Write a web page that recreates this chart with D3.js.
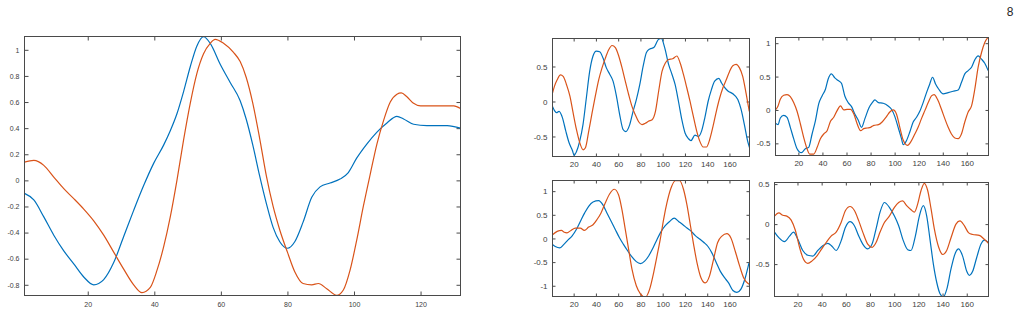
<!DOCTYPE html>
<html>
<head>
<meta charset="utf-8">
<script src="https://cdn.jsdelivr.net/npm/d3@7"></script>
<style>
  body { margin: 0; background: #fff; }
  svg { display: block; font-family: "Liberation Sans", Arial, sans-serif; }
  .axis path.domain { display: none; }
  .axis line { stroke: #4a4a4a; }
  .axis text { fill: #404040; font-family: "Liberation Sans", Arial, sans-serif; }
</style>
</head>
<body>
<svg id="chart" width="1020" height="316"></svg>
<script>
// left (large) panel, x = sample index, y = value
const mainXTicks = [20, 40, 60, 80, 100, 120];
const mainYTicks = [-0.8, -0.6, -0.4, -0.2, 0, 0.2, 0.4, 0.6, 0.8, 1];
const mainBlue = [[1,-0.10],[3.8,-0.15],[6.8,-0.28],[9.8,-0.42],[12.8,-0.54],[15.8,-0.64],[18.8,-0.74],[21.8,-0.80],[24.8,-0.76],[27.8,-0.63],[30.8,-0.43],[33.8,-0.23],[36.8,-0.04],[39.8,0.13],[42.8,0.27],[44.8,0.38],[46.8,0.51],[48.8,0.68],[50.8,0.87],[52.8,1.03],[54.8,1.10],[56.8,1.05],[59.8,0.89],[62.8,0.75],[65.8,0.61],[67.6,0.47],[69.6,0.27],[71.6,0.04],[73.7,-0.18],[75.7,-0.36],[77.7,-0.47],[80,-0.52],[82.2,-0.47],[84.7,-0.32],[87.3,-0.13],[89.8,-0.05],[92.8,-0.02],[95.8,0.01],[98.3,0.06],[100.8,0.17],[103.9,0.28],[106.9,0.37],[109.9,0.44],[112.9,0.49],[114.9,0.47],[117.9,0.43],[121.9,0.42],[128,0.42],[132,0.40]];
const mainOrange = [[1,0.14],[3.8,0.153],[6.8,0.115],[9.8,0.025],[12.8,-0.064],[15.8,-0.14],[18.8,-0.22],[21.8,-0.31],[24.8,-0.42],[27.8,-0.55],[30.8,-0.68],[33.8,-0.80],[36.3,-0.86],[38.8,-0.82],[40.8,-0.69],[42.8,-0.51],[44.8,-0.28],[46.8,0.0],[48.8,0.31],[50.8,0.59],[52.8,0.82],[54.8,0.97],[56.8,1.05],[58.3,1.08],[60.8,1.05],[63.8,0.98],[65.8,0.91],[67.6,0.79],[69.6,0.59],[71.6,0.33],[73.7,0.03],[75.7,-0.20],[77.7,-0.38],[80,-0.55],[82.2,-0.70],[84.7,-0.79],[87.3,-0.80],[89.3,-0.79],[91.8,-0.83],[94.8,-0.88],[96.8,-0.84],[98.8,-0.69],[100.8,-0.46],[102.8,-0.20],[104.9,0.05],[106.9,0.28],[108.9,0.46],[110.9,0.60],[112.9,0.66],[114.2,0.67],[115.9,0.64],[117.9,0.59],[120,0.57],[126,0.57],[130,0.57],[132,0.55]];

// four small panels share the x ticks
const smallXTicks = [20, 40, 60, 80, 100, 120, 140, 160];

const tlYTicks = [-0.5, 0, 0.5];
const tlBlue = [[1,-0.07],[2.8,-0.13],[4.6,-0.16],[6.9,-0.14],[9.9,-0.23],[12.9,-0.42],[15.9,-0.59],[18.9,-0.70],[20.5,-0.77],[22.4,-0.72],[25.4,-0.57],[28.4,-0.33],[31.4,0.05],[34.4,0.43],[37.4,0.65],[40.4,0.72],[43.4,0.71],[46.4,0.62],[49.4,0.48],[52.4,0.39],[55.4,0.29],[58.4,0.08],[61.4,-0.19],[64.4,-0.40],[66.8,-0.43],[70.4,-0.33],[73.4,-0.14],[76.4,0.03],[79.4,0.24],[82.4,0.50],[85.4,0.70],[88.4,0.75],[92,0.77],[96.4,0.89],[98.8,0.90],[101.8,0.77],[105.3,0.53],[108.3,0.39],[111.2,0.24],[114.2,0.0],[117.2,-0.26],[120.1,-0.45],[123.1,-0.53],[125.4,-0.56],[129,-0.48],[132,-0.50],[135,-0.42],[137.9,-0.23],[140.8,0.0],[143.8,0.17],[146.7,0.29],[150.5,0.33],[152.7,0.27],[155.6,0.20],[158.6,0.15],[163,0.11],[167.5,0.03],[170.4,-0.11],[173.4,-0.33],[176.4,-0.57],[178,-0.66]];
const tlOrange = [[1,0.12],[2.8,0.22],[5.2,0.31],[8.2,0.38],[10.6,0.36],[13.6,0.24],[16.6,0.08],[19.5,-0.16],[22.5,-0.40],[25.5,-0.59],[28.5,-0.69],[30.6,-0.66],[33.6,-0.42],[36.6,-0.16],[39.5,0.08],[42.5,0.31],[45.5,0.48],[48.5,0.62],[51.5,0.74],[54.5,0.80],[57.5,0.77],[60.5,0.65],[63.5,0.48],[66.4,0.29],[69.4,0.10],[72.4,-0.07],[75.4,-0.19],[78.4,-0.29],[81.4,-0.33],[84.4,-0.31],[87.5,-0.28],[90.5,-0.26],[93.5,-0.14],[96.4,0.15],[99.4,0.43],[102.4,0.55],[105.3,0.60],[108.9,0.61],[112.7,0.65],[115.7,0.55],[118.6,0.39],[121.6,0.20],[124.6,0.0],[127.5,-0.21],[130.5,-0.42],[133.4,-0.57],[136.4,-0.65],[139.3,-0.65],[142.3,-0.54],[145.3,-0.35],[148.2,-0.14],[151.2,0.05],[154.2,0.20],[157.1,0.31],[160.1,0.43],[163,0.51],[166,0.53],[169,0.48],[171.9,0.36],[174.9,0.12],[177.8,-0.14]];

const trYTicks = [-0.5, 0, 0.5, 1];
const trBlue = [[1,-0.20],[3.1,-0.22],[5,-0.12],[7.8,-0.08],[10.6,-0.11],[13.3,-0.26],[16.1,-0.43],[18.9,-0.58],[22.5,-0.64],[25.8,-0.58],[28.6,-0.56],[31.4,-0.36],[34.2,-0.16],[36.9,0.09],[39.7,0.21],[42.5,0.31],[44.7,0.46],[47.5,0.54],[50.3,0.48],[53.1,0.44],[55.8,0.40],[58.6,0.21],[61.4,0.11],[64.2,0.05],[66.9,-0.06],[69.7,-0.15],[72.5,-0.26],[75.3,-0.13],[78.6,0.03],[81.4,0.11],[83.6,0.15],[86.6,0.11],[90.5,0.10],[94.6,0.06],[97.4,0.01],[100.2,-0.10],[102.9,-0.26],[105.7,-0.43],[107.1,-0.52],[109.8,-0.46],[112.6,-0.33],[115.4,-0.18],[118.2,-0.11],[120.9,-0.02],[123.7,0.11],[126.5,0.26],[129.2,0.39],[131.5,0.49],[134,0.39],[136.7,0.31],[140.3,0.24],[144.5,0.26],[148.6,0.28],[152.8,0.30],[155.5,0.41],[158.3,0.54],[161.1,0.59],[163.9,0.64],[166.6,0.75],[169.4,0.81],[172.2,0.76],[174.9,0.70],[177.7,0.59]];
const trOrange = [[1,0.0],[3.1,0.06],[5,0.16],[7.8,0.22],[10.6,0.23],[13.3,0.20],[16.1,0.11],[18.9,-0.02],[21.7,-0.21],[24.4,-0.41],[27.2,-0.58],[29.4,-0.66],[32.8,-0.66],[35.6,-0.56],[38.3,-0.43],[41.1,-0.36],[43.9,-0.31],[46.7,-0.17],[49.4,-0.11],[52.2,-0.01],[55,0.06],[57.8,0.0],[60.6,0.01],[63.3,0.01],[66.1,-0.06],[68.9,-0.21],[71.7,-0.31],[74.4,-0.28],[77.2,-0.27],[80,-0.26],[82.8,-0.23],[86.6,-0.22],[89.6,-0.18],[93.2,-0.10],[96,-0.03],[98.8,0.0],[101.5,-0.06],[104.3,-0.26],[107.1,-0.45],[110.7,-0.53],[114,-0.46],[116.8,-0.36],[119.5,-0.26],[122.3,-0.13],[125.1,-0.01],[127.9,0.11],[130.6,0.21],[132.8,0.23],[135.6,0.16],[138.9,0.01],[141.7,-0.13],[144.5,-0.26],[147.2,-0.36],[150,-0.42],[152.8,-0.43],[155.5,-0.36],[158.3,-0.18],[161.1,-0.03],[163.9,0.06],[166.6,0.31],[169.4,0.64],[172.2,0.86],[174.9,1.01],[177.7,1.09]];

const blYTicks = [-1, -0.5, 0, 0.5, 1];
const blBlue = [[1,-0.13],[3.5,-0.17],[7.4,-0.20],[11,-0.13],[14.6,-0.04],[18.5,0.05],[22.4,0.19],[26,0.36],[29.9,0.54],[33.5,0.68],[37.4,0.77],[42.5,0.80],[46.3,0.71],[49.9,0.54],[53.8,0.36],[57.4,0.19],[61.3,0.01],[64.9,-0.13],[68.8,-0.27],[72.4,-0.39],[76.3,-0.49],[80,-0.53],[83.8,-0.48],[87.4,-0.37],[91.3,-0.20],[94.9,-0.02],[98.7,0.15],[102.3,0.27],[106.2,0.36],[110.4,0.43],[114.3,0.36],[118.2,0.29],[121.8,0.22],[125.7,0.15],[129.3,0.06],[133.2,-0.01],[136.8,-0.08],[140.7,-0.17],[144.3,-0.31],[148.1,-0.51],[151.7,-0.69],[155.6,-0.83],[159.2,-0.94],[163.1,-1.10],[166.7,-1.14],[170.3,-1.07],[174.2,-0.83],[177.5,-0.52]];
const blOrange = [[1,0.08],[5.2,0.15],[9.1,0.17],[11.6,0.13],[14,0.12],[17.6,0.17],[21.5,0.22],[26,0.22],[29.6,0.17],[33.5,0.24],[37.4,0.29],[41,0.40],[44.6,0.54],[48.4,0.75],[52.3,0.94],[56.5,1.04],[60.4,0.92],[63.4,0.61],[66.4,0.19],[69.4,-0.23],[72.4,-0.65],[76.3,-1.0],[80,-1.17],[84.4,-1.24],[88.3,-1.07],[91.9,-0.72],[94.9,-0.37],[97.8,-0.02],[100.8,0.40],[103.8,0.75],[107.4,1.06],[111.3,1.22],[115.3,1.22],[118.8,1.03],[121.8,0.71],[124.8,0.29],[127.8,-0.13],[130.8,-0.51],[134.4,-0.83],[138.2,-0.94],[142.1,-0.79],[145.7,-0.44],[149.3,-0.09],[153.2,0.05],[157.7,0.10],[161.3,0.01],[165.2,-0.27],[169.1,-0.58],[172.7,-0.83],[177.5,-0.97]];

const brYTicks = [-0.5, 0, 0.5];
const brBlue = [[1,-0.10],[4.6,-0.17],[9.3,-0.22],[13.4,-0.15],[16.7,-0.10],[20.3,-0.19],[24.4,-0.33],[28.5,-0.39],[32.7,-0.40],[36.8,-0.33],[40.9,-0.27],[45.1,-0.24],[48.7,-0.28],[52,-0.33],[56.1,-0.21],[59.7,-0.04],[63.5,0.03],[67.1,-0.02],[70.7,-0.15],[74,-0.25],[78.1,-0.31],[81.7,-0.25],[85,-0.06],[88.3,0.15],[91.9,0.27],[96,0.21],[100.2,0.10],[103.7,-0.02],[107.6,-0.21],[111.2,-0.32],[113.9,-0.33],[117.5,-0.15],[120.8,0.10],[124.1,0.23],[126.9,0.10],[129.6,-0.19],[132.4,-0.50],[135.2,-0.73],[137.9,-0.87],[140.7,-0.91],[143.4,-0.82],[147,-0.56],[150.6,-0.36],[153.3,-0.31],[156.6,-0.40],[160,-0.59],[162.1,-0.64],[164.9,-0.59],[168.2,-0.42],[171.8,-0.25],[174.5,-0.20],[178,-0.23]];
const brOrange = [[1,0.10],[4.6,0.14],[7.9,0.11],[11.2,0.10],[14.8,0.05],[18.3,-0.08],[21.7,-0.29],[25,-0.44],[28.5,-0.49],[32.1,-0.46],[36,-0.40],[39.6,-0.32],[43.7,-0.23],[47.8,-0.15],[52,-0.10],[56.1,0.02],[59.7,0.17],[63.5,0.22],[67.1,0.17],[70.7,0.04],[74,-0.10],[78.1,-0.25],[81.7,-0.29],[85,-0.23],[88.3,-0.10],[91.9,0.02],[96,0.10],[100.2,0.21],[103.7,0.27],[107,0.29],[110.3,0.23],[113.9,0.18],[116.7,0.15],[119.4,0.25],[122.2,0.42],[124.9,0.51],[127.7,0.42],[130.5,0.19],[133.2,-0.06],[136.8,-0.29],[140.1,-0.38],[143.4,-0.33],[147,-0.17],[151.1,0.0],[154.4,0.04],[158,-0.02],[161.6,-0.11],[164.9,-0.13],[170.4,-0.14],[174.5,-0.19],[178,-0.24]];

const blue = '#0072bd';
const orange = '#d95319';

const svg = d3.select('#chart');

let clipId = 0;
function drawPanel(p) {
  const x = d3.scaleLinear().domain(p.xDomain).range([p.left, p.right]);
  const y = d3.scaleLinear().domain(p.yDomain).range([p.bottom, p.top]);
  const g = svg.append('g');
  const id = 'clip' + (clipId++);
  g.append('clipPath').attr('id', id)
    .append('rect')
    .attr('x', p.left).attr('y', p.top)
    .attr('width', p.right - p.left).attr('height', p.bottom - p.top);

  const fmt = d => String(d);
  // MATLAB style: ticks point inward and are mirrored on top / right
  g.append('g').attr('class', 'axis')
    .attr('transform', 'translate(0,' + p.bottom + ')')
    .call(d3.axisBottom(x).tickValues(p.xTicks).tickSize(-p.tick).tickPadding(p.xPad).tickFormat(fmt));
  g.append('g').attr('class', 'axis')
    .attr('transform', 'translate(0,' + p.top + ')')
    .call(d3.axisTop(x).tickValues(p.xTicks).tickSize(-p.tick).tickFormat(''));
  g.append('g').attr('class', 'axis')
    .attr('transform', 'translate(' + p.left + ',0)')
    .call(d3.axisLeft(y).tickValues(p.yTicks).tickSize(-p.tick).tickPadding(p.yPad).tickFormat(fmt));
  g.append('g').attr('class', 'axis')
    .attr('transform', 'translate(' + p.right + ',0)')
    .call(d3.axisRight(y).tickValues(p.yTicks).tickSize(-p.tick).tickFormat(''));
  g.selectAll('.axis')
    .attr('font-family', null)
    .attr('font-size', p.font);

  const line = d3.line()
    .x(d => x(d[0]))
    .y(d => y(d[1]))
    .curve(d3.curveMonotoneX);

  const lines = g.append('g').attr('clip-path', 'url(#' + id + ')');
  p.series.forEach(s => {
    lines.append('path')
      .datum(s.data)
      .attr('fill', 'none')
      .attr('stroke', s.color)
      .attr('stroke-width', 1.2)
      .attr('d', line);
  });

  g.append('rect')
    .attr('x', p.left).attr('y', p.top)
    .attr('width', p.right - p.left).attr('height', p.bottom - p.top)
    .attr('fill', 'none')
    .attr('stroke', '#4a4a4a')
    .attr('stroke-width', 1);
}

drawPanel({
  left: 24.5, right: 460.5, top: 36.5, bottom: 295.5,
  xDomain: [1, 132], yDomain: [-0.882, 1.102],
  xTicks: mainXTicks, yTicks: mainYTicks,
  tick: 4, font: 7, xPad: 7, yPad: 5,
  series: [{ data: mainBlue, color: blue }, { data: mainOrange, color: orange }]
});
drawPanel({
  left: 552.5, right: 749.5, top: 38.5, bottom: 156.5,
  xDomain: [1, 178], yDomain: [-0.786, 0.9],
  xTicks: smallXTicks, yTicks: tlYTicks,
  tick: 3, font: 8, xPad: 5, yPad: 5,
  series: [{ data: tlBlue, color: blue }, { data: tlOrange, color: orange }]
});
drawPanel({
  left: 775.5, right: 988.5, top: 37.5, bottom: 155.5,
  xDomain: [1, 178], yDomain: [-0.682, 1.085],
  xTicks: smallXTicks, yTicks: trYTicks,
  tick: 3, font: 8, xPad: 5, yPad: 5,
  series: [{ data: trBlue, color: blue }, { data: trOrange, color: orange }]
});
drawPanel({
  left: 552.5, right: 749.5, top: 180.5, bottom: 296.5,
  xDomain: [1, 178], yDomain: [-1.227, 1.225],
  xTicks: smallXTicks, yTicks: blYTicks,
  tick: 3, font: 8, xPad: 5, yPad: 5,
  series: [{ data: blBlue, color: blue }, { data: blOrange, color: orange }]
});
drawPanel({
  left: 774.5, right: 988.5, top: 182.5, bottom: 296.5,
  xDomain: [1, 178], yDomain: [-0.905, 0.52],
  xTicks: smallXTicks, yTicks: brYTicks,
  tick: 3, font: 8, xPad: 5, yPad: 5,
  series: [{ data: brBlue, color: blue }, { data: brOrange, color: orange }]
});

// stray label in the top right corner of the figure
svg.append('text')
  .attr('x', 1010).attr('y', 16)
  .attr('text-anchor', 'middle')
  .attr('fill', '#262626')
  .style('font-size', '12px')
  .text('8');
</script>
</body>
</html>
